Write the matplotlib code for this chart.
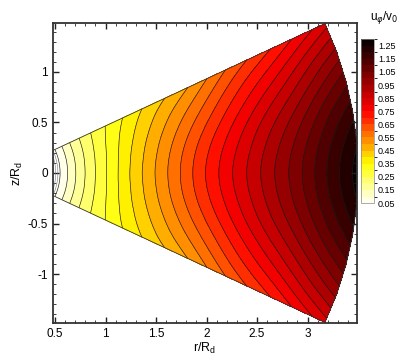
import numpy as np
import matplotlib
matplotlib.use("Agg")
import matplotlib.pyplot as plt
import matplotlib.tri as mtri
from matplotlib.colors import LinearSegmentedColormap, ListedColormap, BoundaryNorm
from matplotlib.ticker import MultipleLocator, FormatStrFormatter
import matplotlib.cm as cm

plt.rcParams["font.family"] = ["Liberation Sans", "DejaVu Sans"]

# sample radii (r/Rd) and polar angles (deg from midplane), symmetric in z
r_vals = [0.45, 0.55, 0.75, 1.0, 1.25, 1.5, 1.75, 2.0, 2.25, 2.5, 2.75, 3.0, 3.25, 3.5]
th_vals = [0, 5, 10, 15, 20, 25]

# u_phi/v0, one row per angle
u_th0 = [-0.02, 0.05, 0.175, 0.295, 0.404, 0.504, 0.604, 0.704, 0.797, 0.887, 0.977, 1.071, 1.174, 1.27]
u_th5 = [-0.02, 0.05, 0.175, 0.294, 0.400, 0.498, 0.596, 0.693, 0.784, 0.872, 0.960, 1.052, 1.152, 1.246]
u_th10 = [-0.02, 0.05, 0.174, 0.290, 0.391, 0.483, 0.573, 0.663, 0.750, 0.834, 0.916, 1.001, 1.094, 1.182]
u_th15 = [-0.02, 0.05, 0.173, 0.285, 0.377, 0.460, 0.539, 0.618, 0.698, 0.775, 0.848, 0.924, 1.006, 1.085]
u_th20 = [-0.02, 0.05, 0.172, 0.278, 0.360, 0.432, 0.498, 0.563, 0.634, 0.703, 0.765, 0.829, 0.899, 0.966]
u_th25 = [-0.02, 0.05, 0.170, 0.270, 0.340, 0.400, 0.450, 0.500, 0.560, 0.620, 0.670, 0.720, 0.775, 0.830]

cb_ticks = [0.05, 0.15, 0.25, 0.35, 0.45, 0.55, 0.65, 0.75, 0.85, 0.95, 1.05, 1.15, 1.25]

rows = [u_th0, u_th5, u_th10, u_th15, u_th20, u_th25]
th_full = [-t for t in th_vals[::-1]] + th_vals[1:]
U = np.array(rows[::-1] + rows[1:])
R, TH = np.meshgrid(np.array(r_vals), np.radians(th_full))
X = R * np.cos(TH)
Z = R * np.sin(TH)

nth, nr = X.shape
tris = []
for i in range(nth - 1):
    for j in range(nr - 1):
        k = i * nr + j
        tris.append([k, k + 1, k + nr + 1])
        tris.append([k, k + nr + 1, k + nr])
tri = mtri.Triangulation(X.ravel(), Z.ravel(), tris)
refiner = mtri.UniformTriRefiner(tri)
tri2, u2 = refiner.refine_field(U.ravel(), subdiv=3)

# tecplot-like white -> yellow -> red -> black
base = LinearSegmentedColormap.from_list(
    "tp", [(0, "#ffffff"), (0.24, "#ffff00"), (0.56, "#ff0000"), (1, "#000000")])
lev = np.round(np.arange(0.05, 1.3001, 0.05), 3)
mids = (lev[:-1] + lev[1:]) / 2
band_cols = [base((m - 0.05) / 1.25) for m in mids]

fill_lev = np.concatenate([[-1.0], lev])
fill_cmap = ListedColormap([(1, 1, 1, 1)] + band_cols)
fill_norm = BoundaryNorm(fill_lev, fill_cmap.N)

fig = plt.figure(figsize=(4.07, 3.62), dpi=100)
ax = fig.add_axes([0.1295, 0.1077, 0.7486, 0.8288])

ax.tricontourf(tri2, u2, levels=fill_lev, cmap=fill_cmap, norm=fill_norm)
ax.tricontour(tri2, u2, levels=lev[:-1], colors="#1a1a1a", linewidths=0.45)
ax.tricontour(tri2, u2, levels=[0.0, 0.02, 0.035], colors="#777777", linewidths=0.4)

# wedge outline
bx = np.concatenate([X[0], X[:, -1], X[-1][::-1], X[::-1, 0]])
bz = np.concatenate([Z[0], Z[:, -1], Z[-1][::-1], Z[::-1, 0]])
ax.plot(bx, bz, color="#333333", lw=0.6)

ax.set_xlim(0.477, 3.493)
ax.set_ylim(-1.485, 1.485)
ax.set_aspect("equal", adjustable="box")

ax.xaxis.set_major_locator(MultipleLocator(0.5))
ax.xaxis.set_minor_locator(MultipleLocator(0.1))
ax.yaxis.set_major_locator(MultipleLocator(0.5))
ax.yaxis.set_minor_locator(MultipleLocator(0.1))
ax.xaxis.set_major_formatter(FormatStrFormatter("%g"))
ax.yaxis.set_major_formatter(FormatStrFormatter("%g"))
ax.tick_params(which="both", direction="in", top=True, right=True, labelsize=8.5, color="#222222")
ax.tick_params(which="major", length=4, width=1.0)
ax.tick_params(which="minor", length=2, width=0.6)
for s in ax.spines.values():
    s.set_linewidth(1.3)
    s.set_color("#333333")

ax.set_xlabel("r/R$_\\mathregular{d}$", fontsize=9, labelpad=1)
ax.set_ylabel("z/R$_\\mathregular{d}$", fontsize=9, labelpad=2)

# legend bar
cax = fig.add_axes([0.886, 0.439, 0.0327, 0.453])
sm = cm.ScalarMappable(norm=BoundaryNorm(lev, len(band_cols)), cmap=ListedColormap(band_cols))
cb = fig.colorbar(sm, cax=cax, ticks=cb_ticks)
cb.ax.set_yticklabels(["%.2f" % t for t in cb_ticks])
cb.ax.tick_params(length=0, labelsize=6.5, pad=3)
cb.outline.set_linewidth(0.5)
cb.outline.set_edgecolor("#888888")
fig.text(0.943, 0.952, "u$_\\varphi$/v$_0$", ha="center", va="center", fontsize=8.5)

fig.savefig("out.png", dpi=100)
